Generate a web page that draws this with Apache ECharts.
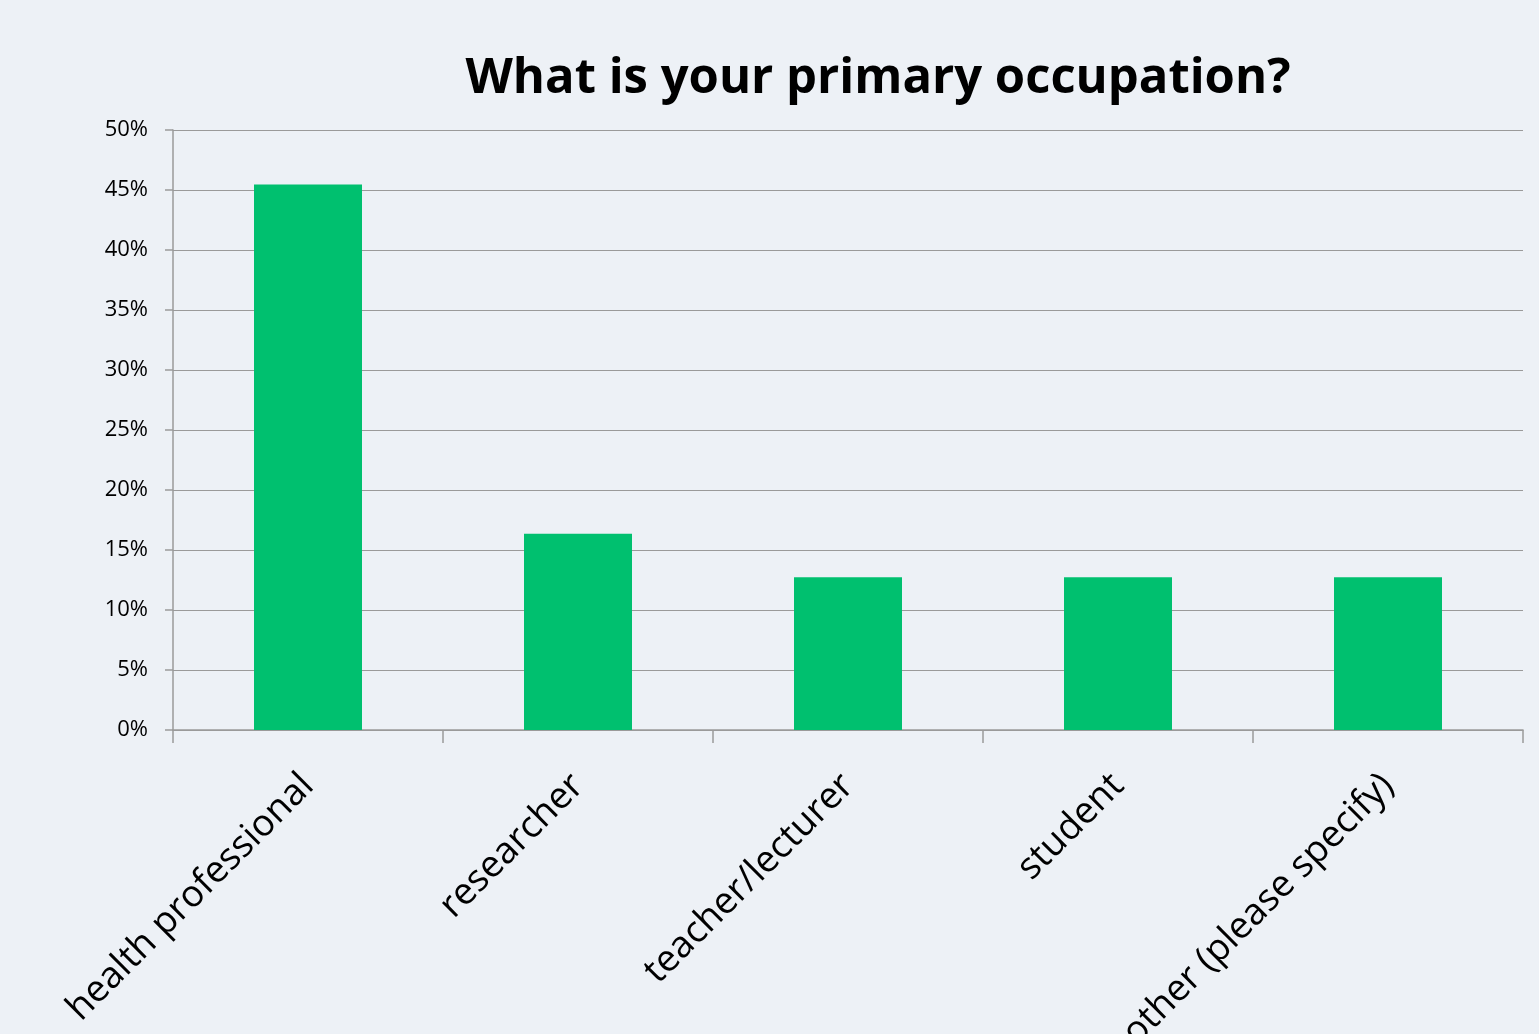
<!DOCTYPE html>
<html>
<head>
<meta charset="utf-8">
<script src="https://cdn.jsdelivr.net/npm/echarts@6/dist/echarts.min.js"></script>
<style>
  html, body { margin: 0; padding: 0; background: #edf1f6; }
  #chart { width: 1539px; height: 1034px; }
</style>
</head>
<body>
<div id="chart"></div>
<script>
// survey answers, share of respondents (%)
const categories = ['health professional', 'researcher', 'teacher/lecturer', 'student', 'other (please specify)']
const shares = [45.45, 16.36, 12.73, 12.73, 12.73]
const yTicks = [0, 5, 10, 15, 20, 25, 30, 35, 40, 45, 50]

const chart = echarts.init(document.getElementById('chart'))
const font = 'Open Sans'

chart.setOption({
  backgroundColor: '#edf1f6',
  animation: false,
  title: {
    text: 'What is your primary occupation?',
    left: 873,
    textAlign: 'center',
    top: 50,
    textStyle: { fontFamily: font, fontSize: 49, fontWeight: 'bold', color: '#000' }
  },
  // labels run off the bottom edge in the original, so don't let the grid shrink
  grid: { left: 173, right: 16, top: 130, bottom: 304, containLabel: false, outerBoundsMode: 'none' },
  xAxis: {
    type: 'category',
    data: categories,
    axisLine: { lineStyle: { color: '#9a9a9a', width: 1.5 } },
    axisTick: { show: true, length: 13, lineStyle: { color: '#9a9a9a', width: 1.5 } },
    axisLabel: {
      rotate: 45,
      interval: 0,
      margin: 50,
      fontFamily: font,
      fontSize: 37,
      color: '#000'
    }
  },
  yAxis: {
    type: 'value',
    min: yTicks[0],
    max: yTicks[yTicks.length - 1],
    interval: 5,
    axisLine: { show: true, lineStyle: { color: '#9a9a9a', width: 1.5 } },
    axisTick: { show: true, length: 8, lineStyle: { color: '#9a9a9a', width: 1.5 } },
    splitLine: { lineStyle: { color: '#9a9a9a', width: 1.2 } },
    axisLabel: {
      formatter: '{value}%',
      margin: 25,
      fontFamily: font,
      fontSize: 22,
      color: '#000'
    }
  },
  series: [
    {
      type: 'bar',
      data: shares,
      barWidth: '40%',
      itemStyle: { color: '#00c06f' }
    }
  ]
})
</script>
</body>
</html>
